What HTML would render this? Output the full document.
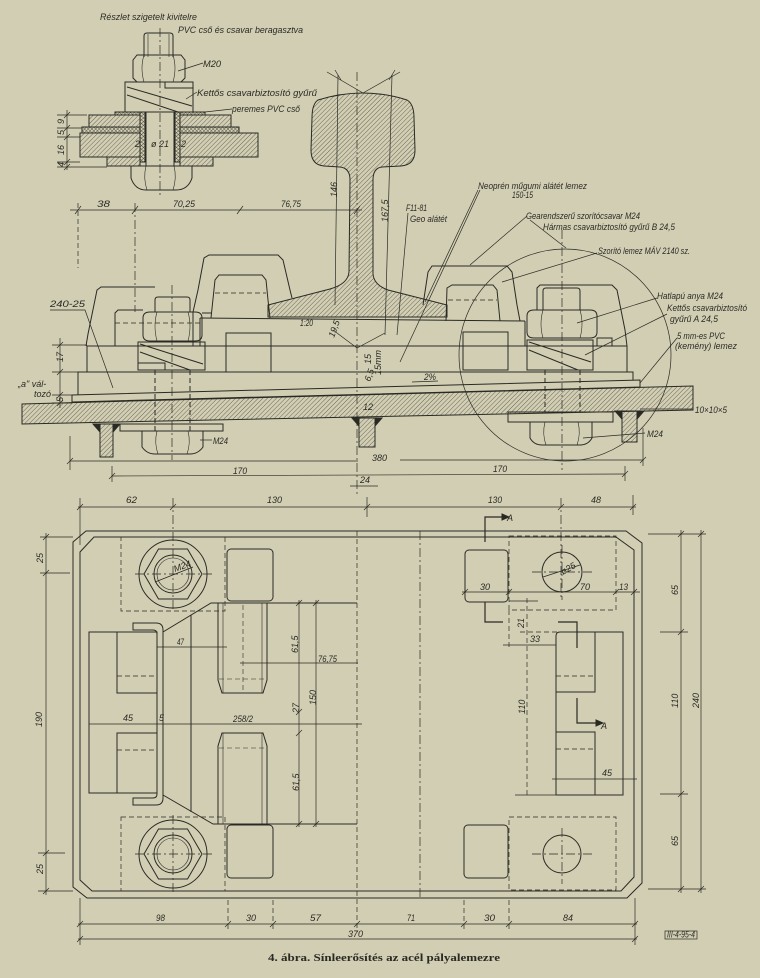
<!DOCTYPE html>
<html><head><meta charset="utf-8">
<style>
html,body{margin:0;padding:0;background:#d2ceb3;}
svg{display:block}
text{font-family:"Liberation Sans",sans-serif;font-style:italic;fill:#2a2a24;font-size:9px;stroke:none}
.cap{font-family:"Liberation Serif",serif;font-style:normal;font-weight:bold;font-size:10px}
.d{stroke-width:0.7}
.da{stroke-dasharray:5 3}
.dd{stroke-dasharray:9 3 2 3;stroke-width:0.7}
.th{stroke-width:0.6}
</style></head><body>
<svg width="760" height="978" viewBox="0 0 760 978" xmlns="http://www.w3.org/2000/svg">
<defs>
<pattern id="h" width="3.2" height="3.2" patternUnits="userSpaceOnUse" patternTransform="rotate(45)"><line x1="0" y1="0" x2="0" y2="3.2" stroke="#3a3a30" stroke-width="0.7"/></pattern>
<pattern id="x" width="2.6" height="2.6" patternUnits="userSpaceOnUse" patternTransform="rotate(45)"><line x1="0" y1="0" x2="0" y2="2.6" stroke="#2a2a24" stroke-width="0.7"/><line x1="0" y1="0" x2="2.6" y2="0" stroke="#2a2a24" stroke-width="0.7"/></pattern>
</defs>
<rect width="760" height="978" fill="#d2ceb3"/>

<g fill="none" stroke="#2a2a24" stroke-width="1">

<!-- ================= INSET ================= -->
<text x="100" y="20" textLength="97" lengthAdjust="spacingAndGlyphs">Részlet szigetelt kivitelre</text>
<text x="178" y="33" textLength="125" lengthAdjust="spacingAndGlyphs">PVC cső és csavar beragasztva</text>
<text x="203" y="67" textLength="18" lengthAdjust="spacingAndGlyphs">M20</text>
<text x="197" y="96" textLength="120" lengthAdjust="spacingAndGlyphs">Kettős csavarbiztosító gyűrű</text>
<text x="232" y="112" textLength="68" lengthAdjust="spacingAndGlyphs">peremes PVC cső</text>
<line x1="178" y1="71" x2="203" y2="63" class="d"/>
<line x1="186" y1="99" x2="197" y2="92" class="d"/>
<line x1="205" y1="112" x2="232" y2="109" class="d"/>

<line x1="160" y1="28" x2="160" y2="196" class="dd"/>
<path d="M144 57 L144 36 Q144 33 147 33 L170 33 Q173 33 173 36 L173 57"/>
<line x1="148" y1="34" x2="148" y2="57" class="th"/>
<line x1="169" y1="34" x2="169" y2="57" class="th"/>
<path d="M133 60 L137 55 L181 55 L185 60 L185 78 L181 82 L137 82 L133 78 Z"/>
<path d="M144 55 Q140 68 144 82 M173 55 Q177 68 173 82" class="th"/>
<rect x="125" y="82" width="68" height="30"/>
<line x1="127" y1="87" x2="192" y2="106"/>
<line x1="127" y1="95" x2="178" y2="112"/>
<rect x="165" y="82" width="28" height="6"/>
<rect x="115" y="112" width="25" height="3" fill="url(#x)"/>
<rect x="180" y="112" width="25" height="3" fill="url(#x)"/>
<rect x="89" y="115" width="51" height="12" fill="url(#h)"/>
<rect x="180" y="115" width="51" height="12" fill="url(#h)"/>
<rect x="82" y="127" width="58" height="6" fill="url(#x)"/>
<rect x="180" y="127" width="59" height="6" fill="url(#x)"/>
<rect x="80" y="133" width="60" height="24" fill="url(#h)"/>
<rect x="180" y="133" width="78" height="24" fill="url(#h)"/>
<rect x="107" y="157" width="33" height="9" fill="url(#h)"/>
<rect x="180" y="157" width="33" height="9" fill="url(#h)"/>
<rect x="140" y="112" width="5" height="50" fill="url(#x)"/>
<rect x="175" y="112" width="5" height="50" fill="url(#x)"/>
<line x1="146" y1="112" x2="146" y2="166"/>
<line x1="174" y1="112" x2="174" y2="166"/>
<path d="M131 166 L192 166 L192 178 Q188 190 176 190 L146 190 Q135 190 131 178 Z"/>
<path d="M146 166 Q143 178 147 190 M174 166 Q177 178 173 190" class="th"/>
<text x="151" y="147" font-size="8">ø 21</text>
<text x="135" y="147" font-size="7">2</text>
<text x="181" y="147" font-size="7">2</text>
<line x1="67" y1="110" x2="67" y2="170" class="d"/>
<path d="M57 115 L87 115 M57 128 L82 128 M57 137 L80 137 M57 162 L80 162 M57 167 L107 167" class="d"/>
<path d="M64 118 L70 112 M64 131 L70 125 M64 140 L70 134 M64 165 L70 159 M64 170 L70 164" class="d"/>
<text transform="translate(64,124) rotate(-90)" font-size="8">9</text>
<text transform="translate(64,135) rotate(-90)" font-size="8">5</text>
<text transform="translate(64,155) rotate(-90)" font-size="8">16</text>
<text transform="translate(64,167) rotate(-90)" font-size="7">4</text>

<!-- ================= CROSS SECTION ================= -->
<!-- top dim -->
<line x1="70" y1="210" x2="362" y2="210" class="d"/>
<path d="M75 214 L81 206 M132 214 L138 206 M237 214 L243 206 M354 214 L360 206" class="d"/>
<text x="97" y="207" textLength="13" lengthAdjust="spacingAndGlyphs">38</text>
<text x="173" y="207" textLength="22" lengthAdjust="spacingAndGlyphs">70,25</text>
<text x="281" y="207" textLength="20" lengthAdjust="spacingAndGlyphs">76,75</text>
<line x1="78" y1="203" x2="78" y2="268" class="da d"/>
<line x1="135" y1="203" x2="135" y2="312" class="dd"/>
<line x1="357" y1="72" x2="357" y2="495" class="dd"/>

<!-- rail -->
<path d="M318 100 Q363 86 407 100 Q414 104 414 118 L415 150 Q415 165 401 166 L382 167 Q373 168 373 180 L373 274 Q374 285 388 290 L447 305 L447 317 L268 317 L268 305 L330 289 Q348 284 349 272 L350 180 Q350 168 340 167 L324 166 Q311 165 311 150 L312 118 Q312 104 318 100 Z" fill="url(#h)"/>
<line x1="338" y1="75" x2="335" y2="305" class="d"/>
<line x1="392" y1="75" x2="385" y2="335" class="d"/>
<path d="M327 72 L363 93 L400 72" class="d"/>
<path d="M335 70 L341 80 M389 80 L395 70" class="d"/>
<text transform="translate(337,197) rotate(-90)" font-size="8">146</text>
<text transform="translate(388,222) rotate(-90)" font-size="8">167,5</text>
<text x="406" y="211" textLength="21" lengthAdjust="spacingAndGlyphs">F11-81</text>
<text x="410" y="222" textLength="37" lengthAdjust="spacingAndGlyphs">Geo alátét</text>
<path d="M408 213 L397 335" class="d"/>

<!-- labels right -->
<text x="478" y="189" textLength="109" lengthAdjust="spacingAndGlyphs">Neoprén műgumi alátét lemez</text>
<text x="512" y="198" textLength="21" lengthAdjust="spacingAndGlyphs">150-15</text>
<line x1="480" y1="190" x2="400" y2="362" class="d"/>
<line x1="478" y1="190" x2="425" y2="302" class="d"/>
<text x="526" y="219" textLength="114" lengthAdjust="spacingAndGlyphs">Gearendszerű szorítócsavar M24</text>
<text x="543" y="230" textLength="132" lengthAdjust="spacingAndGlyphs">Hármas csavarbiztosító gyűrű B 24,5</text>
<line x1="527" y1="216" x2="470" y2="265" class="d"/>
<line x1="530" y1="220" x2="566" y2="248" class="d"/>
<text x="598" y="254" textLength="92" lengthAdjust="spacingAndGlyphs">Szorító lemez MÁV 2140 sz.</text>
<line x1="597" y1="253" x2="502" y2="282" class="d"/>
<text x="657" y="299" textLength="66" lengthAdjust="spacingAndGlyphs">Hatlapú anya M24</text>
<line x1="657" y1="298" x2="577" y2="323" class="d"/>
<text x="667" y="311" textLength="80" lengthAdjust="spacingAndGlyphs">Kettős csavarbiztosító</text>
<text x="670" y="322" textLength="48" lengthAdjust="spacingAndGlyphs">gyűrű A 24,5</text>
<line x1="667" y1="314" x2="585" y2="355" class="d"/>
<text x="677" y="339" textLength="48" lengthAdjust="spacingAndGlyphs">5 mm-es PVC</text>
<text x="675" y="349" textLength="62" lengthAdjust="spacingAndGlyphs">(kemény) lemez</text>
<line x1="677" y1="338" x2="640" y2="383" class="d"/>
<text x="695" y="413" textLength="32" lengthAdjust="spacingAndGlyphs">10×10×5</text>
<line x1="640" y1="409" x2="693" y2="409" class="d"/>
<text x="647" y="437" textLength="16" lengthAdjust="spacingAndGlyphs">M24</text>
<line x1="583" y1="438" x2="645" y2="433" class="d"/>

<!-- labels left -->
<text x="50" y="307" textLength="35" lengthAdjust="spacingAndGlyphs">240-25</text>
<path d="M50 310 L85 310 L113 388" class="d"/>
<text x="18" y="387" font-size="9">„a" vál-</text>
<text x="34" y="397" font-size="9">tozó</text>
<line x1="60" y1="338" x2="60" y2="408" class="d"/>
<path d="M52 345 L87 345 M52 372 L78 372 M52 395 L72 395 M52 403 L72 403" class="d"/>
<path d="M57 348 L63 342 M57 375 L63 369 M57 398 L63 392 M57 406 L63 400" class="d"/>
<text transform="translate(63,362) rotate(-90)" font-size="8">17</text>
<text transform="translate(63,402) rotate(-90)" font-size="7">5</text>

<!-- deck -->
<polygon points="22,404 693,386 693,410 22,424" fill="url(#h)"/>
<!-- PVC plate -->
<polygon points="72,395 640,380 640,387 72,402"/>
<!-- wedge plate -->
<path d="M78 395 L78 372 L633 372 L633 380"/>
<!-- 17 plate -->
<path d="M87 372 L87 346 L627 346 L627 372"/>
<line x1="200" y1="318" x2="525" y2="321"/>
<line x1="115" y1="323" x2="200" y2="323" class="da d"/>
<line x1="200" y1="318" x2="200" y2="346"/>
<line x1="525" y1="321" x2="525" y2="346"/>

<!-- left clamps -->
<path d="M86 346 L88 334 L97 290 L101 287 L155 287"/>
<path d="M115 346 L115 313 L118 310 L143 310"/>
<path d="M193 346 L193 312 L198 290 L204 258 L209 255 L278 255 L283 260 L290 290 L292 298"/>
<path d="M211 318 L215 280 L219 275 L262 275 L266 280 L268 300 L270 318"/>
<line x1="215" y1="293" x2="266" y2="293" class="da d"/>
<line x1="202" y1="313" x2="211" y2="313"/>

<!-- right clamps -->
<path d="M423 305 L428 272 L432 266 L507 266 L512 272 L517 305 L520 321"/>
<path d="M446 321 L447 288 L452 285 L493 285 L497 290 L500 321"/>
<line x1="448" y1="300" x2="497" y2="300" class="da d"/>
<path d="M537 310 L537 288 L540 285 L612 285 L617 290 L625 330 L627 346"/>
<path d="M597 346 L597 338 L612 338 L612 346"/>

<!-- left bolt -->
<line x1="172" y1="285" x2="172" y2="460" class="dd"/>
<path d="M155 312 L155 300 Q155 297 158 297 L187 297 Q190 297 190 300 L190 312"/>
<path d="M143 318 Q143 312 150 312 L195 312 Q202 312 202 318 L202 335 Q202 341 195 341 L150 341 Q143 341 143 335 Z"/>
<path d="M157 312 Q153 326 157 341 M188 312 Q192 326 188 341" class="th"/>
<rect x="138" y="342" width="67" height="28"/>
<line x1="140" y1="344" x2="203" y2="364"/>
<line x1="140" y1="352" x2="190" y2="370"/>
<rect x="138" y="363" width="27" height="7"/>
<line x1="155" y1="370" x2="155" y2="431" class="da"/>
<line x1="190" y1="370" x2="190" y2="431" class="da"/>
<rect x="120" y="424" width="103" height="7"/>
<path d="M142 431 L203 431 L203 447 Q198 454 190 454 L155 454 Q147 454 142 447 Z"/>
<path d="M157 431 Q154 443 158 454 M188 431 Q191 443 187 454" class="th"/>
<text x="213" y="444" textLength="15" lengthAdjust="spacingAndGlyphs">M24</text>
<line x1="200" y1="440" x2="212" y2="440" class="d"/>

<!-- right bolt -->
<line x1="562" y1="230" x2="562" y2="470" class="dd"/>
<path d="M543 310 L543 291 Q543 288 546 288 L577 288 Q580 288 580 291 L580 310"/>
<path d="M527 316 Q527 310 534 310 L590 310 Q597 310 597 316 L597 332 Q597 338 590 338 L534 338 Q527 338 527 332 Z"/>
<path d="M543 310 Q539 324 543 338 M580 310 Q584 324 580 338" class="th"/>
<rect x="527" y="340" width="66" height="30"/>
<line x1="529" y1="342" x2="591" y2="362"/>
<line x1="529" y1="350" x2="578" y2="370"/>
<line x1="545" y1="370" x2="545" y2="412" class="da"/>
<line x1="580" y1="370" x2="580" y2="412" class="da"/>
<rect x="508" y="412" width="105" height="10"/>
<path d="M530 422 L592 422 L592 438 Q588 445 580 445 L542 445 Q534 445 530 438 Z"/>
<path d="M545 422 Q542 434 546 445 M578 422 Q581 434 577 445" class="th"/>

<!-- blocks -->
<rect x="226" y="333" width="45" height="39"/>
<rect x="463" y="332" width="45" height="38"/>

<!-- ribs -->
<rect x="100" y="424" width="13" height="33" fill="url(#h)"/>
<path d="M93 424 L100 424 L100 432 Z M113 424 L120 424 L113 432 Z" fill="#2a2a24"/>
<rect x="359" y="418" width="16" height="29" fill="url(#h)"/>
<path d="M352 418 L359 418 L359 426 Z M375 418 L382 418 L375 426 Z" fill="#2a2a24"/>
<rect x="622" y="411" width="15" height="31" fill="url(#h)"/>
<path d="M615 411 L622 411 L622 419 Z M637 411 L644 411 L637 419 Z" fill="#2a2a24"/>

<!-- center small dims -->
<path d="M333 330 L357 348 L385 333" class="d"/>
<text x="300" y="326" textLength="13" lengthAdjust="spacingAndGlyphs">1:20</text>
<text transform="translate(334,338) rotate(-70)" font-size="7">19,5</text>
<text transform="translate(371,364) rotate(-90)" font-size="7">15</text>
<text transform="translate(370,382) rotate(-70)" font-size="6">6,5</text>
<text transform="translate(381,375) rotate(-90)" font-size="6">15mm</text>
<text x="363" y="410" font-size="7">12</text>
<text x="424" y="380" textLength="12" lengthAdjust="spacingAndGlyphs">2%</text>
<path d="M412 382 L438 381" class="d"/>

<!-- detail circle -->
<circle cx="565" cy="355" r="106" class="d"/>

<!-- bottom dims -->
<line x1="70" y1="461" x2="358" y2="461" class="d"/>
<line x1="400" y1="460" x2="643" y2="460" class="d"/>
<line x1="112" y1="476" x2="625" y2="474" class="d"/>
<line x1="70" y1="436" x2="70" y2="470" class="d"/>
<line x1="112" y1="466" x2="112" y2="482" class="d"/>
<line x1="643" y1="428" x2="643" y2="466" class="d"/>
<line x1="625" y1="466" x2="625" y2="481" class="d"/>
<path d="M67 464 L73 458 M640 463 L646 457 M109 479 L115 473 M622 477 L628 471" class="d"/>
<text x="372" y="461" textLength="15" lengthAdjust="spacingAndGlyphs">380</text>
<text x="233" y="474" textLength="14" lengthAdjust="spacingAndGlyphs">170</text>
<text x="493" y="472" textLength="14" lengthAdjust="spacingAndGlyphs">170</text>
<text x="360" y="483" font-size="8">24</text>
<path d="M350 486 L378 486" class="d"/>

<!-- ================= PLAN VIEW ================= -->
<!-- top dims -->
<line x1="78" y1="507" x2="636" y2="507" class="d"/>
<path d="M77 510 L83 504 M170 510 L176 504 M364 510 L370 504 M558 510 L564 504 M630 510 L636 504" class="d"/>
<line x1="80" y1="498" x2="80" y2="545" class="d"/>
<line x1="173" y1="498" x2="173" y2="610" class="dd"/>
<line x1="367" y1="497" x2="367" y2="517" class="d"/>
<line x1="561" y1="498" x2="561" y2="600" class="dd"/>
<line x1="633" y1="495" x2="633" y2="515" class="d"/>
<text x="126" y="503" textLength="11" lengthAdjust="spacingAndGlyphs">62</text>
<text x="267" y="503" textLength="15" lengthAdjust="spacingAndGlyphs">130</text>
<text x="488" y="503" textLength="14" lengthAdjust="spacingAndGlyphs">130</text>
<text x="591" y="503" textLength="10" lengthAdjust="spacingAndGlyphs">48</text>

<!-- outline -->
<path d="M86 531 L626 531 L642 543 L642 883 L627 898 L87 898 L73 887 L73 542 Z"/>
<path d="M94 537 L616 537 L634 550 L634 877 L621 891 L92 891 L80 880 L80 552 Z"/>

<!-- left dims -->
<line x1="46" y1="533" x2="46" y2="895" class="d"/>
<path d="M40 537 L73 537 M40 573 L70 573 M38 853 L65 853 M38 891 L73 891" class="d"/>
<path d="M43 540 L49 534 M43 576 L49 570 M43 856 L49 850 M43 894 L49 888" class="d"/>
<text transform="translate(43,563) rotate(-90)" font-size="9">25</text>
<text transform="translate(42,727) rotate(-90)" font-size="9">190</text>
<text transform="translate(43,874) rotate(-90)" font-size="9">25</text>

<!-- right dims -->
<line x1="681" y1="530" x2="681" y2="893" class="d"/>
<line x1="701" y1="530" x2="701" y2="893" class="d"/>
<path d="M648 534 L706 534 M660 632 L688 632 M660 794 L688 794 M648 889 L706 889" class="d"/>
<path d="M678 537 L684 531 M678 635 L684 629 M678 797 L684 791 M678 892 L684 886 M698 537 L704 531 M698 892 L704 886" class="d"/>
<text transform="translate(678,595) rotate(-90)" font-size="9">65</text>
<text transform="translate(678,708) rotate(-90)" font-size="9">110</text>
<text transform="translate(699,708) rotate(-90)" font-size="9">240</text>
<text transform="translate(678,846) rotate(-90)" font-size="9">65</text>

<!-- center lines -->
<line x1="357" y1="531" x2="357" y2="932" class="da d"/>
<line x1="420" y1="531" x2="420" y2="898" class="dd"/>

<!-- top-left bolt -->
<rect x="121" y="537" width="104" height="74" class="da d"/>
<circle cx="173" cy="574" r="34"/>
<polygon points="144,574 158.5,549 187.5,549 202,574 187.5,599 158.5,599"/>
<circle cx="173" cy="574" r="19"/>
<circle cx="173" cy="574" r="16" class="th"/>
<line x1="135" y1="574" x2="212" y2="574" class="dd"/>
<line x1="155" y1="582" x2="193" y2="567" class="d"/>
<text transform="translate(175,572) rotate(-20)" font-size="6">M24</text>
<rect x="227" y="549" width="46" height="52" rx="4"/>

<!-- bottom-left bolt -->
<rect x="121" y="817" width="104" height="74" class="da d"/>
<circle cx="173" cy="854" r="34"/>
<polygon points="144,854 158.5,829 187.5,829 202,854 187.5,879 158.5,879"/>
<circle cx="173" cy="854" r="19"/>
<circle cx="173" cy="854" r="16" class="th"/>
<line x1="135" y1="854" x2="212" y2="854" class="dd"/>
<line x1="173" y1="815" x2="173" y2="895" class="dd"/>
<rect x="227" y="825" width="46" height="53" rx="4"/>

<!-- left structure -->
<path d="M357 603 L211 603 L163 632"/>
<path d="M357 824 L213 824 L163 795"/>
<line x1="191" y1="615" x2="191" y2="812"/>
<path d="M133 623 L133 630 L153 630 Q157 630 157 634 L157 794 Q157 798 153 798 L133 798 L133 805 L156 805 Q163 805 163 798 L163 630 Q163 623 156 623 Z"/>
<rect x="89" y="632" width="68" height="161"/>
<path d="M117 632 L117 693 L157 693"/>
<line x1="117" y1="676" x2="157" y2="676" class="da d"/>
<path d="M117 793 L117 733 L157 733"/>
<line x1="117" y1="750" x2="157" y2="750" class="da d"/>

<!-- elongated bolt heads -->
<path d="M218 603 L218 680 L222 693 L263 693 L267 680 L267 603"/>
<line x1="223" y1="603" x2="223" y2="693" class="th"/>
<line x1="262" y1="603" x2="262" y2="693" class="th"/>
<line x1="243" y1="605" x2="243" y2="690" class="da th"/>
<line x1="219" y1="679" x2="266" y2="679" class="da th"/>
<path d="M218 824 L218 746 L222 733 L263 733 L267 746 L267 824"/>
<line x1="223" y1="733" x2="223" y2="824" class="th"/>
<line x1="262" y1="733" x2="262" y2="824" class="th"/>
<line x1="219" y1="748" x2="266" y2="748" class="da th"/>

<!-- inner dims left -->
<line x1="89" y1="724" x2="362" y2="724" class="d"/>
<text x="123" y="721" textLength="10" lengthAdjust="spacingAndGlyphs">45</text>
<text x="159" y="721" font-size="7">5</text>
<text x="233" y="722" textLength="20" lengthAdjust="spacingAndGlyphs">258/2</text>
<line x1="157" y1="647" x2="227" y2="647" class="d"/>
<text x="177" y="645" textLength="7" lengthAdjust="spacingAndGlyphs">47</text>
<line x1="240" y1="663" x2="358" y2="663" class="d"/>
<text x="318" y="662" textLength="19" lengthAdjust="spacingAndGlyphs">76,75</text>
<line x1="299" y1="600" x2="299" y2="827" class="d"/>
<line x1="316" y1="600" x2="316" y2="827" class="d"/>
<path d="M296 606 L302 600 M313 606 L319 600 M296 827 L302 821 M313 827 L319 821 M296 715 L302 709 M296 736 L302 730" class="d"/>
<text transform="translate(298,653) rotate(-90)" font-size="8">61,5</text>
<text transform="translate(316,705) rotate(-90)" font-size="8">150</text>
<text transform="translate(299,713) rotate(-90)" font-size="8">27</text>
<text transform="translate(299,791) rotate(-90)" font-size="8">61,5</text>

<!-- right side plan -->
<path d="M485 542 L485 517 L503 517" stroke-width="1.2"/>
<path d="M502 514 L509 517 L502 520 Z" fill="#2a2a24"/>
<text x="507" y="521" font-size="9">A</text>
<rect x="465" y="550" width="43" height="52" rx="4"/>
<rect x="509" y="536" width="107" height="74" class="da d"/>
<circle cx="562" cy="572" r="20"/>
<line x1="532" y1="572" x2="592" y2="572" class="dd"/>
<line x1="562" y1="545" x2="562" y2="600" class="dd"/>
<line x1="543" y1="577" x2="580" y2="565" class="d"/>
<text transform="translate(563,575) rotate(-30)" font-size="7">ø25</text>
<line x1="462" y1="592" x2="640" y2="592" class="d"/>
<path d="M462 595 L468 589 M506 595 L512 589 M613 595 L619 589 M631 595 L637 589" class="d"/>
<text x="480" y="590" textLength="10" lengthAdjust="spacingAndGlyphs">30</text>
<text x="580" y="590" textLength="10" lengthAdjust="spacingAndGlyphs">70</text>
<text x="619" y="590" textLength="9" lengthAdjust="spacingAndGlyphs">13</text>
<path d="M485 602 L485 622 L503 622" stroke-width="1.2"/>
<line x1="509" y1="610" x2="509" y2="650" class="da d"/>
<line x1="509" y1="601" x2="538" y2="601" class="d"/>
<line x1="527" y1="598" x2="527" y2="795" class="da d"/>
<text transform="translate(524,628) rotate(-90)" font-size="8">21</text>
<line x1="520" y1="632" x2="623" y2="632" class="da d"/>
<line x1="503" y1="645" x2="556" y2="645" class="d"/>
<text x="530" y="642" textLength="10" lengthAdjust="spacingAndGlyphs">33</text>
<path d="M558 622 L577 622 L577 648" stroke-width="1.2"/>
<path d="M556 795 L556 636 Q556 632 560 632 L595 632 L595 692 L556 692"/>
<line x1="556" y1="676" x2="595" y2="676" class="da d"/>
<path d="M595 632 L623 632 L623 795 L556 795"/>
<path d="M556 732 L595 732 L595 795"/>
<line x1="556" y1="749" x2="595" y2="749" class="da d"/>
<path d="M577 698 L577 723 L597 723" stroke-width="1.2"/>
<path d="M596 720 L603 723 L596 726 Z" fill="#2a2a24"/>
<text x="601" y="729" font-size="9">A</text>
<line x1="552" y1="779" x2="637" y2="779" class="d"/>
<text x="602" y="776" textLength="10" lengthAdjust="spacingAndGlyphs">45</text>
<line x1="515" y1="795" x2="556" y2="795" class="d"/>
<text transform="translate(525,714) rotate(-90)" font-size="8">110</text>
<rect x="464" y="825" width="44" height="53" rx="4"/>
<rect x="509" y="817" width="107" height="73" class="da d"/>
<circle cx="562" cy="854" r="19"/>
<line x1="532" y1="854" x2="592" y2="854" class="dd"/>
<line x1="562" y1="828" x2="562" y2="884" class="dd"/>

<!-- bottom dims -->
<line x1="78" y1="924" x2="637" y2="924" class="d"/>
<line x1="78" y1="939" x2="637" y2="939" class="d"/>
<line x1="80" y1="898" x2="80" y2="945" class="d"/>
<line x1="635" y1="898" x2="635" y2="945" class="d"/>
<path d="M228 900 L228 930 M273 900 L273 930 M464 900 L464 930 M509 900 L509 930" class="da d"/>
<path d="M77 927 L83 921 M225 927 L231 921 M270 927 L276 921 M354 927 L360 921 M461 927 L467 921 M506 927 L512 921 M632 927 L638 921 M77 942 L83 936 M632 942 L638 936" class="d"/>
<text x="156" y="921" textLength="9" lengthAdjust="spacingAndGlyphs">98</text>
<text x="246" y="921" textLength="10" lengthAdjust="spacingAndGlyphs">30</text>
<text x="310" y="921" textLength="11" lengthAdjust="spacingAndGlyphs">57</text>
<text x="407" y="921" textLength="8" lengthAdjust="spacingAndGlyphs">71</text>
<text x="484" y="921" textLength="11" lengthAdjust="spacingAndGlyphs">30</text>
<text x="563" y="921" textLength="10" lengthAdjust="spacingAndGlyphs">84</text>
<text x="348" y="937" textLength="15" lengthAdjust="spacingAndGlyphs">370</text>

<rect x="665" y="931" width="32" height="8" class="d"/>
<text x="667" y="937.5" font-size="6" textLength="28" lengthAdjust="spacingAndGlyphs">III-4-95-4</text>

<text class="cap" x="268" y="961" textLength="232" lengthAdjust="spacingAndGlyphs">4. ábra. Sínleerősítés az acél pályalemezre</text>
</g>
</svg>
</body></html>
